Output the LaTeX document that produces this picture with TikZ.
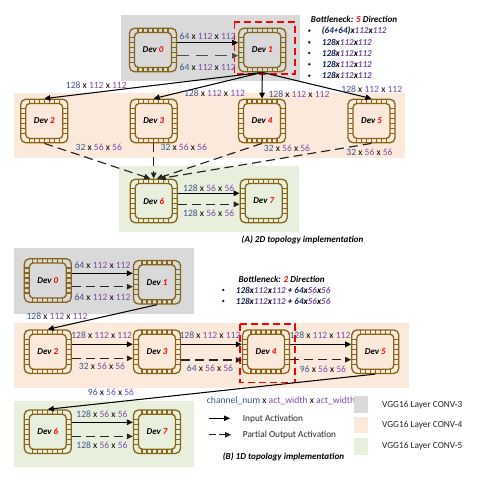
\documentclass[tikz,border=0pt]{standalone}
\usepackage{fontspec}
\setmainfont{Carlito}
\usetikzlibrary{arrows.meta}
\definecolor{chipc}{HTML}{866518}
\definecolor{bgA}{HTML}{D9D9D9}
\definecolor{bgB}{HTML}{FBE9DC}
\definecolor{bgC}{HTML}{E9EFDD}
\definecolor{numb}{HTML}{3B5488}
\definecolor{nump}{HTML}{7B50A8}
\definecolor{navy}{HTML}{15275F}
\definecolor{dashc}{HTML}{262626}
\tikzset{
 x=1pt,y=-1pt,
 bgbox/.style={fill=#1,draw=none},
 chipbody/.style={draw=chipc,line width=1.3pt,rounded corners=5pt,minimum width=47pt,minimum height=43.5pt,inner sep=0pt},
 chipin/.style={draw=chipc,line width=1.3pt,rounded corners=4pt},
 chiptick/.style={draw=chipc,line width=1.2pt},
 dim/.style={font=\fontsize{9.6}{11}\selectfont,inner sep=0pt},
 flow/.style={draw=black,line width=1.05pt,-{Triangle[length=6pt,width=5.5pt]}},
 part/.style={draw=dashc,line width=1.15pt,dash pattern=on 9pt off 5pt,-{Triangle[length=6pt,width=5.5pt]}},
 longpart/.style={part,dash pattern=on 12pt off 7pt,draw=black!70},
 redbox/.style={draw=red,line width=1.1pt,dash pattern=on 7pt off 4pt},
 captext/.style={font=\fontsize{9.1}{10}\selectfont\bfseries\itshape,inner sep=0pt},
 note/.style={font=\fontsize{9.1}{10}\selectfont\bfseries\itshape,inner sep=0pt,anchor=west},
 legendtext/.style={font=\fontsize{9.3}{11}\selectfont,inner sep=0pt,anchor=west,text=black!85},
 dotb/.style={circle,fill=navy,inner sep=0pt,minimum size=2.8pt},
}
\newcommand{\nb}[1]{\textcolor{numb}{#1}}
\newcommand{\np}[1]{\textcolor{nump}{#1}}
\newcommand{\dims}[3]{\nb{#1} x \np{#2} x \np{#3}}
\newcommand{\dimt}[3]{\textcolor{navy}{#1}x\np{#2}x\np{#3}}
\newcommand{\chipdev}[4]{% name, x, y, number
 \node[chipbody] (#1) at (#2,#3) {};
 \begin{scope}[shift={(#2,#3)}]
  \foreach \tx in {-15,-10,-5,0,5,10,15}{
   \draw[chiptick] (\tx,-21.5) -- (\tx,-17.5);
   \draw[chiptick] (\tx,17.5) -- (\tx,21.5);}
  \foreach \ty in {-12.5,-7.5,-2.5,2.5,7.5,12.5}{
   \draw[chiptick] (-23,\ty) -- (-18.5,\ty);
   \draw[chiptick] (18.5,\ty) -- (23,\ty);}
  \draw[chipin] (-18.5,-17.5) rectangle (18.5,17.5);
 \end{scope}
 \node[font=\fontsize{9}{10}\selectfont\bfseries\itshape,inner sep=0pt] (#1t) at (#2,#3) {Dev \textcolor{red}{#4}};
}
\begin{document}
\begin{tikzpicture}
\useasboundingbox (0,0) rectangle (484,481);
\fill[white] (0,0) rectangle (484,481);
% backgrounds
\fill[bgbox=bgA] (120.7,15) rectangle (300,81);
\fill[bgbox=bgB] (14,92.7) rectangle (404.7,158);
\fill[bgbox=bgC] (119.3,166) rectangle (298.7,231.7);
\fill[bgbox=bgA] (14,248.3) rectangle (193.7,313.7);
\fill[bgbox=bgB] (14,323.3) rectangle (409.3,388.3);
\fill[bgbox=bgC] (14,401) rectangle (193.7,466.7);
% (A)
\chipdev{a0}{153}{50}{0}
\chipdev{a1}{262.3}{50}{1}
\chipdev{a2}{44.3}{121}{2}
\chipdev{a3}{153.7}{121}{3}
\chipdev{a4}{262}{121}{4}
\chipdev{a5}{371.5}{121}{5}
\chipdev{a6}{153.7}{201}{6}
\chipdev{a7}{263.7}{201}{7}
\draw[redbox] (234.3,22) rectangle (295,74);
\draw[flow] ([yshift=7.3pt]a0.east) -- ([yshift=7.3pt]a1.west);
\draw[longpart] ([yshift=-5.7pt]a0.east) -- ([yshift=-5.7pt]a1.west);
\draw[flow] (a1.south) -- (a2.north);
\draw[flow] (a1.south) -- (a3.north);
\draw[flow] (a1.south) -- (a4.north);
\draw[flow] (a1.south) -- (a5.north);
\draw[part] (a2.south) -- ([xshift=-3.5pt]a6.north);
\draw[part] (a3.south) -- (a6.north);
\draw[part] (a4.south) -- ([xshift=3pt]a6.north);
\draw[part] (a5.south) -- ([xshift=6pt]a6.north);
\draw[flow] ([yshift=7.7pt]a6.east) -- ([yshift=7.7pt]a7.west);
\draw[part] ([yshift=-3.3pt]a6.east) -- ([yshift=-3.3pt]a7.west);
\node[dim] (la1) at (207.7,36) {\dims{64}{112}{112}};
\node[dim] (la2) at (207.7,67) {\dims{64}{112}{112}};
\node[dim] (la3) at (96.3,85.7) {\dims{128}{112}{112}};
\node[dim] (la4) at (214.5,93) {\dims{128}{112}{112}};
\node[dim] (la5) at (299,94.3) {\dims{128}{112}{112}};
\node[dim] (la6) at (371.8,89.7) {\dims{128}{112}{112}};
\node[dim] (la7) at (98.8,147.7) {\dims{32}{56}{56}};
\node[dim] (la8) at (183.8,147) {\dims{32}{56}{56}};
\node[dim] (la9) at (287,148.3) {\dims{32}{56}{56}};
\node[dim] (la10) at (369.5,152.3) {\dims{32}{56}{56}};
\node[dim] (la11) at (208.7,188.3) {\dims{128}{56}{56}};
\node[dim] (la12) at (208.7,213.3) {\dims{128}{56}{56}};
\node[captext] (capa) at (302.5,240.3) {(A) 2D topology implementation};
\node[note] (n1) at (310.7,19.7) {Bottleneck: \textcolor{red}{5} Direction};
\foreach \yy/\tt in {30.7/{(\textcolor{navy}{64+64})x\np{112}x\np{112}},42.3/{\dimt{128}{112}{112}},53/{\dimt{128}{112}{112}},64.3/{\dimt{128}{112}{112}},75.7/{\dimt{128}{112}{112}}}{
 \node[dotb] at (309.3,\yy) {};
 \node[note] at (321.7,\yy) {\tt};
}
% (B)
\chipdev{b0}{47.8}{280.5}{0}
\chipdev{b1}{157}{282.3}{1}
\chipdev{b2}{47.8}{351.7}{2}
\chipdev{b3}{157}{351.7}{3}
\chipdev{b4}{266}{351.7}{4}
\chipdev{b5}{375.3}{351.7}{5}
\chipdev{b6}{47.8}{431.7}{6}
\chipdev{b7}{157}{431.7}{7}
\draw[redbox] (240,324) rectangle (295,382.3);
\draw[flow] (b0.east |- 0,273.3) -- (b1.west |- 0,273.3);
\draw[part] (b0.east |- 0,286.7) -- (b1.west |- 0,286.7);
\draw[flow] (b1.south) -- (b2.north);
\draw[flow] ([yshift=7.4pt]b2.east) -- ([yshift=7.4pt]b3.west);
\draw[part] ([yshift=-6.6pt]b2.east) -- ([yshift=-6.6pt]b3.west);
\draw[flow] ([yshift=7.4pt]b3.east) -- ([yshift=7.4pt]b4.west);
\draw[part] ([yshift=-8.3pt]b3.east) -- ([yshift=-8.3pt]b4.west);
\draw[flow] ([yshift=7.4pt]b4.east) -- ([yshift=7.4pt]b5.west);
\draw[part] ([yshift=-8pt]b4.east) -- ([yshift=-8pt]b5.west);
\draw[flow] (b5.south) -- (b6.north);
\draw[flow] ([yshift=9.4pt]b6.east) -- ([yshift=9.4pt]b7.west);
\draw[part] ([yshift=-4.6pt]b6.east) -- ([yshift=-4.6pt]b7.west);
\node[dim] (lb1) at (102.5,265) {\dims{64}{112}{112}};
\node[dim] (lb2) at (102.5,297.7) {\dims{64}{112}{112}};
\node[dim] (lb3) at (57,316.3) {\dims{128}{112}{112}};
\node[dim] (lb4) at (101.7,335) {\dims{128}{112}{112}};
\node[dim] (lb5) at (102,366.3) {\dims{32}{56}{56}};
\node[dim] (lb6) at (210,335) {\dims{128}{112}{112}};
\node[dim] (lb7) at (210,368.7) {\dims{64}{56}{56}};
\node[dim] (lb8) at (320,335) {\dims{128}{112}{112}};
\node[dim] (lb9) at (323,369) {\dims{96}{56}{56}};
\node[dim] (lb10) at (111,392) {\dims{96}{56}{56}};
\node[dim] (lb11) at (102,414.3) {\dims{128}{56}{56}};
\node[dim] (lb12) at (102,445.7) {\dims{128}{56}{56}};
\node[captext] (capb) at (283.5,456.7) {(B) 1D topology implementation};
\node[note] (n2) at (238.3,279) {Bottleneck: \textcolor{red}{2} Direction};
\foreach \yy in {290,301}{
 \node[dotb] at (223.3,\yy) {};
 \node[note] at (235.7,\yy) {\dimt{128}{112}{112} + \dimt{64}{56}{56}};
}
% legend
\node[dim,anchor=west] (lg0) at (206.7,401) {\nb{channel\_num} x \np{act\_width} x \np{act\_width}};
\coordinate (ar1) at (209,418.3); \coordinate (ar2) at (230,418.3);
\coordinate (ar3) at (209,434.7); \coordinate (ar4) at (231,434.7);
\draw[flow] (ar1) -- (ar2);
\draw[part,dash pattern=on 7pt off 3pt] (ar3) -- (ar4);
\node[legendtext] (lg1) at (242.7,418.7) {Input Activation};
\node[legendtext] (lg2) at (242.7,435) {Partial Output Activation};
\fill[bgbox=bgA] (354,396) rectangle (367.7,412.7);
\fill[bgbox=bgB] (354,416.7) rectangle (367.7,433.3);
\fill[bgbox=bgC] (354,438) rectangle (367.7,454.7);
\node[legendtext] (lg3) at (382,405) {VGG16 Layer CONV-3};
\node[legendtext] (lg4) at (382,425.5) {VGG16 Layer CONV-4};
\node[legendtext] (lg5) at (382,446.5) {VGG16 Layer CONV-5};
\end{tikzpicture}
\end{document}
